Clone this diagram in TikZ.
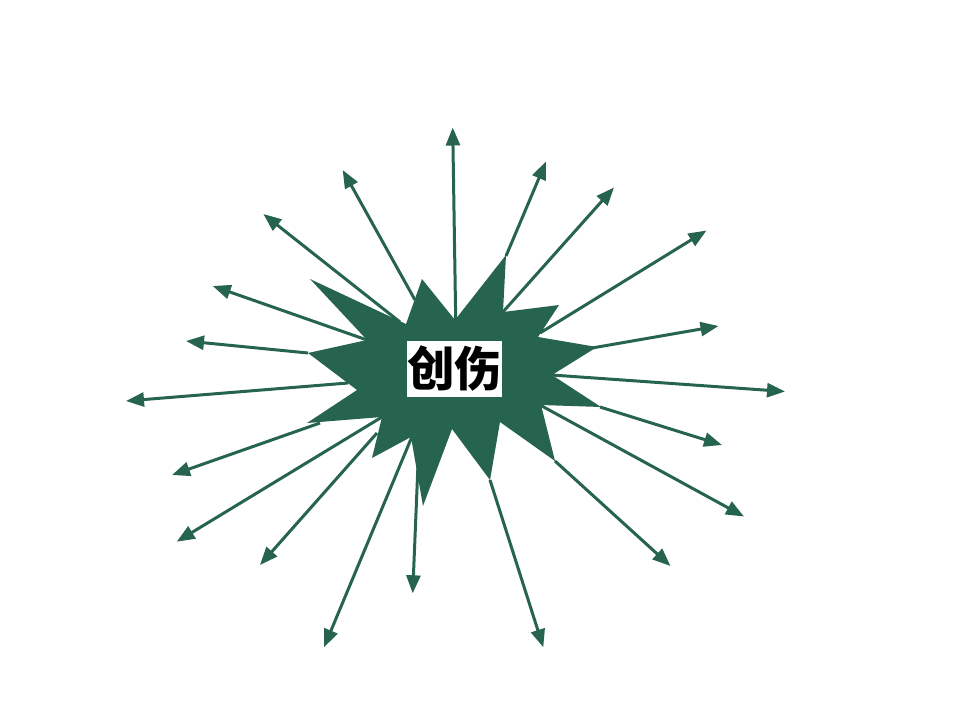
\documentclass[tikz,border=0pt]{standalone}
\usepackage{fontspec}
\newfontfamily\cjk{Noto Sans CJK SC}
\usetikzlibrary{arrows.meta}
\definecolor{burst}{RGB}{38,100,80}
\begin{document}
\begin{tikzpicture}[x=0.02cm,y=-0.02cm,
    ray/.style={draw=burst,line width=0.06cm,-{Triangle[length=0.36cm,width=0.28cm]}}]
        \useasboundingbox (0,0) rectangle (960,720);
        % rays out of the burst
        \foreach \i/\bx/\by/\tx/\ty in {1/455.7/320/452.7/127.5, 2/506/256/546/161.5,
            3/502/313/614/187.5, 4/540/333/706.5/230.5, 5/592/348/718.5/326,
            6/552/375/785/391.5, 7/600/407/722/445, 8/540/405/744/516.5,
            9/555/461/670.5/566, 10/490/480/543.3/647.3, 11/419/440/412.7/593.3,
            12/411.7/437.3/324/647.3, 13/377/433/260/565, 14/382/417/176.7/541.7,
            15/320/423/172/475, 16/348/383/126/401, 17/308/353/186/341,
            18/367/340/212.7/286, 19/400/322/263.3/214, 20/415/300/342.7/170}{
            \coordinate (b\i) at (\bx,\by);
            \coordinate (t\i) at (\tx,\ty);
            \draw[ray] (b\i) -- (t\i);
        }
        % the burst
        \fill[burst] (310,279) -- (406,324) -- (422,279) -- (455,320) -- (506,255)
            -- (503,312) -- (559,305) -- (538,337) -- (597,347) -- (552,375)
            -- (601,407) -- (541,405) -- (555,461) -- (500,422) -- (490,480)
            -- (452,429) -- (423,506) -- (411,437) -- (372,458) -- (382,417)
            -- (307,423) -- (357,390) -- (308,353) -- (367,340) -- cycle;
        \node[fill=white,inner sep=0pt,minimum width=1.92cm,minimum height=1.12cm]
            (wound) at (454.5,369) {\cjk\bfseries\fontsize{27pt}{28pt}\selectfont 创伤};
    \end{tikzpicture}
\end{document}
